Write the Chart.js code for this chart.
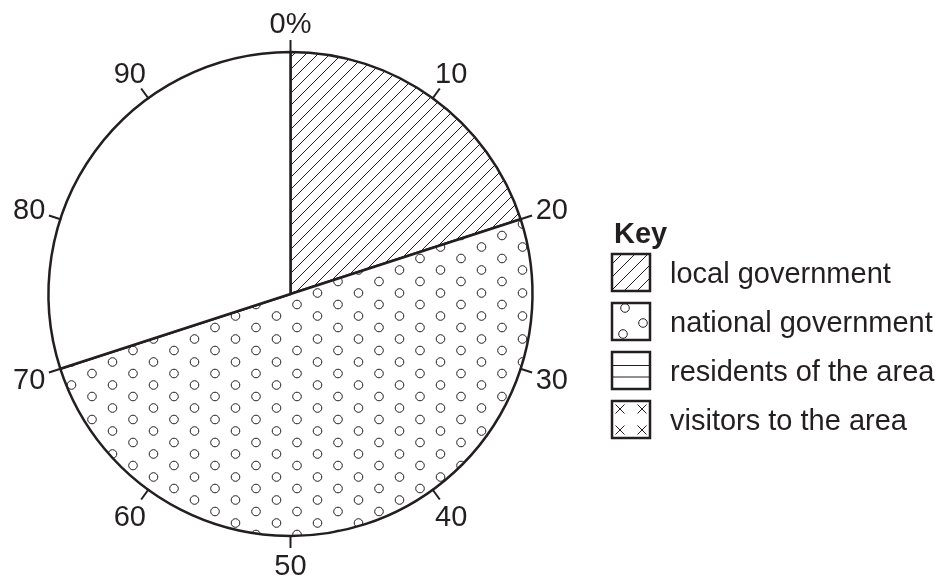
<!DOCTYPE html>
<html>
<head>
<meta charset="utf-8">
<script src="https://cdn.jsdelivr.net/npm/chart.js@4.4.0/dist/chart.umd.min.js"></script>
<style>
  html, body { margin: 0; padding: 0; background: #fff; }
  #wrap { width: 940px; height: 579px; }
</style>
</head>
<body>
<div id="wrap"><canvas id="pieChart" width="940" height="579"></canvas></div>
<script>
// slices of the pie (the last one is left blank in the source)
const sliceLabels = ['local government', 'national government', ''];
const sliceValues = [20, 50, 30];

// key entries
const keyLabels = ['local government', 'national government', 'residents of the area', 'visitors to the area'];

// percentage scale round the pie
const tickValues = [0, 10, 20, 30, 40, 50, 60, 70, 80, 90];
const tickLabels = ['0%', '10', '20', '30', '40', '50', '60', '70', '80', '90'];

const ink = '#231f20';
const font = '"Liberation Sans", Arial, sans-serif';

function hatchPattern() {
    const c = document.createElement('canvas');
    c.width = 12; c.height = 12;
    const g = c.getContext('2d');
    g.fillStyle = '#fff'; g.fillRect(0, 0, 12, 12);
    g.strokeStyle = ink; g.lineWidth = 1;
    g.beginPath();
    g.moveTo(0, 12); g.lineTo(12, 0);
    g.moveTo(-2, 2); g.lineTo(2, -2);
    g.moveTo(10, 14); g.lineTo(14, 10);
    g.stroke();
    return g.createPattern(c, 'repeat');
}

function dotPattern() {
    const c = document.createElement('canvas');
    c.width = 41; c.height = 23;
    const g = c.getContext('2d');
    g.fillStyle = '#fff'; g.fillRect(0, 0, 41, 23);
    g.strokeStyle = ink; g.lineWidth = 1;
    [[10, 5.5], [30.5, 17]].forEach(p => {
        g.beginPath(); g.arc(p[0], p[1], 4.3, 0, Math.PI * 2); g.stroke();
    });
    return g.createPattern(c, 'repeat');
}

const ctx = document.getElementById('pieChart').getContext('2d');
const hatch = hatchPattern();
const dots = dotPattern();

const scaleRing = {
    id: 'scaleRing',
    afterDatasetsDraw(chart) {
        const arc = chart.getDatasetMeta(0).data[0];
        const cx = arc.x, cy = arc.y, r = arc.outerRadius;
        const c = chart.ctx;
        c.save();
        c.strokeStyle = ink; c.lineWidth = 2;
        c.fillStyle = ink;
        c.font = '29px ' + font;
        c.textAlign = 'center';
        c.textBaseline = 'alphabetic';
        tickValues.forEach((v, i) => {
            const a = -Math.PI / 2 + v / 100 * Math.PI * 2;
            const cos = Math.cos(a), sin = Math.sin(a);
            c.beginPath();
            c.moveTo(cx + cos * (r - 1), cy + sin * (r - 1));
            c.lineTo(cx + cos * (r + 12), cy + sin * (r + 12));
            c.stroke();
            const lr = r + 29 + 4 * Math.abs(cos);
            c.fillText(tickLabels[i], cx + cos * lr, cy + sin * lr + 10.4);
        });
        c.restore();
    }
};

const keyBox = {
    id: 'keyBox',
    afterDraw(chart) {
        const c = chart.ctx;
        const x0 = 612, y0 = 254, bw = 38, bh = 37, step = 49;
        c.save();
        c.fillStyle = ink;
        c.font = 'bold 29px ' + font;
        c.textBaseline = 'alphabetic';
        c.fillText('Key', 614, 243);
        c.font = '29px ' + font;
        keyLabels.forEach((label, i) => {
            const y = y0 + i * step;
            c.save();
            c.beginPath(); c.rect(x0, y, bw, bh); c.clip();
            c.strokeStyle = ink; c.lineWidth = 1;
            if (i === 0) {
                c.beginPath();
                [10, 23, 36, 49, 62].forEach(d => {
                    c.moveTo(x0 + d - bh, y + bh); c.lineTo(x0 + d, y);
                });
                c.stroke();
            } else if (i === 1) {
                [[13, 5], [31, 20], [11, 31]].forEach(p => {
                    c.beginPath(); c.arc(x0 + p[0], y + p[1], 4.3, 0, Math.PI * 2); c.stroke();
                });
            } else if (i === 2) {
                c.beginPath();
                c.moveTo(x0, y + 13.5); c.lineTo(x0 + bw, y + 13.5);
                c.moveTo(x0, y + 25); c.lineTo(x0 + bw, y + 25);
                c.stroke();
            } else {
                [[8, 8], [30, 8], [8, 29], [30, 29]].forEach(p => {
                    c.beginPath();
                    c.moveTo(x0 + p[0] - 4.5, y + p[1] - 4.5); c.lineTo(x0 + p[0] + 4.5, y + p[1] + 4.5);
                    c.moveTo(x0 + p[0] + 4.5, y + p[1] - 4.5); c.lineTo(x0 + p[0] - 4.5, y + p[1] + 4.5);
                    c.stroke();
                });
            }
            c.restore();
            c.strokeStyle = ink; c.lineWidth = 2.5;
            c.strokeRect(x0, y, bw, bh);
            c.fillStyle = ink;
            c.fillText(label, 670, y + bh / 2 + 10.4);
        });
        c.restore();
    }
};

new Chart(ctx, {
    type: 'pie',
    data: {
        labels: sliceLabels,
        datasets: [{
            data: sliceValues,
            backgroundColor: [hatch, dots, '#ffffff'],
            borderColor: ink,
            borderWidth: 2.5,
            radius: 242
        }]
    },
    options: {
        responsive: false,
        animation: false,
        events: [],
        layout: {
            padding: { left: 48, right: 407, top: 52, bottom: 43 }
        },
        plugins: {
            legend: { display: false },
            tooltip: { enabled: false }
        }
    },
    plugins: [scaleRing, keyBox]
});
</script>
</body>
</html>
